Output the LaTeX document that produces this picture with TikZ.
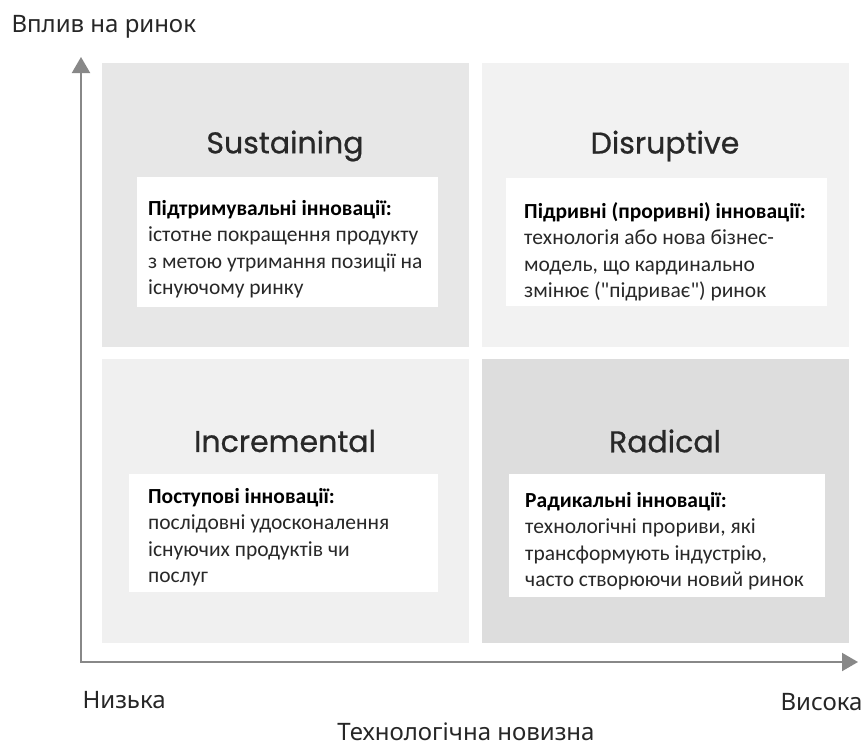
\documentclass[tikz,border=0pt]{standalone}
\usepackage{fontspec}
\setmainfont{Carlito}[Ligatures=TeXOff]
\newfontfamily\headfont[FakeBold=0.7]{Poppins}
\newfontfamily\axisfont{Noto Sans}
\usetikzlibrary{arrows.meta,positioning}
\definecolor{axisgray}{RGB}{136,136,136}
\definecolor{quadA}{RGB}{231,231,231}
\definecolor{quadB}{RGB}{242,242,242}
\definecolor{quadC}{RGB}{240,240,240}
\definecolor{quadD}{RGB}{221,221,221}
\definecolor{ink}{RGB}{40,40,40}

\begin{document}
\begin{tikzpicture}[x=1pt,y=-1pt,
  quad/.style={anchor=north west,inner sep=0pt,minimum width=367pt,minimum height=284pt},
  qtitle/.style={font=\headfont\fontsize{30}{35}\selectfont,text=ink},
  whitebox/.style={fill=white,anchor=north west,inner sep=0pt},
  desctext/.style={anchor=north west,inner sep=0pt,align=left,
    font=\fontsize{21.5}{26.5}\selectfont,text=ink},
  axlabel/.style={font=\axisfont\fontsize{24}{28}\selectfont,text=black!85}]
\useasboundingbox (0,0) rectangle (867,747);
% quadrants
\node[quad,fill=quadA] (sust) at (102,63) {};
\node[quad,fill=quadB] (disr) at (482,63) {};
\node[quad,fill=quadC] (incr) at (102,359) {};
\node[quad,fill=quadD] (radi) at (482,359) {};
% titles
\node[qtitle] (tsust) at (285,146) {Sustaining};
\node[qtitle] (tdisr) at (665,146) {Disruptive};
\node[qtitle] (tincr) at (285,441) {Incremental};
\node[qtitle] (tradi) at (665,441) {Radical};
% white boxes
\node[whitebox,minimum width=301pt,minimum height=130pt] (bsust) at (137,177) {};
\node[whitebox,minimum width=321pt,minimum height=128pt] (bdisr) at (506,178) {};
\node[whitebox,minimum width=309pt,minimum height=118pt] (bincr) at (129,474) {};
\node[whitebox,minimum width=316pt,minimum height=123pt] (bradi) at (509,474) {};
% descriptions (strut = distance from box top to first baseline)
\node[desctext] (dsust) at ([xshift=11pt]bsust.north west)
  {\rule{0pt}{38pt}\textbf{\color{black}Підтримувальні інновації:}\\
   істотне покращення продукту\\з метою утримання позиції на\\існуючому ринку};
\node[desctext] (ddisr) at ([xshift=18pt]bdisr.north west)
  {\rule{0pt}{40pt}\textbf{\color{black}Підривні (проривні) інновації:}\\
   технологія або нова бізнес-\\модель, що кардинально\\змінює ("підриває") ринок};
\node[desctext] (dincr) at ([xshift=19pt]bincr.north west)
  {\rule{0pt}{29pt}\textbf{\color{black}Поступові інновації:}\\
   послідовні удосконалення\\існуючих продуктів чи\\послуг};
\node[desctext] (dradi) at ([xshift=16pt]bradi.north west)
  {\rule{0pt}{33pt}\textbf{\color{black}Радикальні інновації:}\\
   технологічні прориви, які\\трансформують індустрію,\\часто створюючи новий ринок};
% axes
\coordinate (origin) at (81,662);
\coordinate (ytop) at (81,57);
\coordinate (xend) at (858,662);
\draw[axisgray,line width=2pt,
  {Triangle[width=18pt,length=16pt]}-{Triangle[width=18pt,length=16pt]}]
  (ytop) -- (origin) -- (xend);
\node[axlabel,anchor=west] (ylab) at (8,27) {Вплив на ринок};
\node[axlabel,anchor=west] (low) at (79,700) {Низька};
\node[axlabel,anchor=east] (high) at (866,702) {Висока};
\node[axlabel] (xlab) at (466,732) {Технологічна новизна};
\end{tikzpicture}
\end{document}
